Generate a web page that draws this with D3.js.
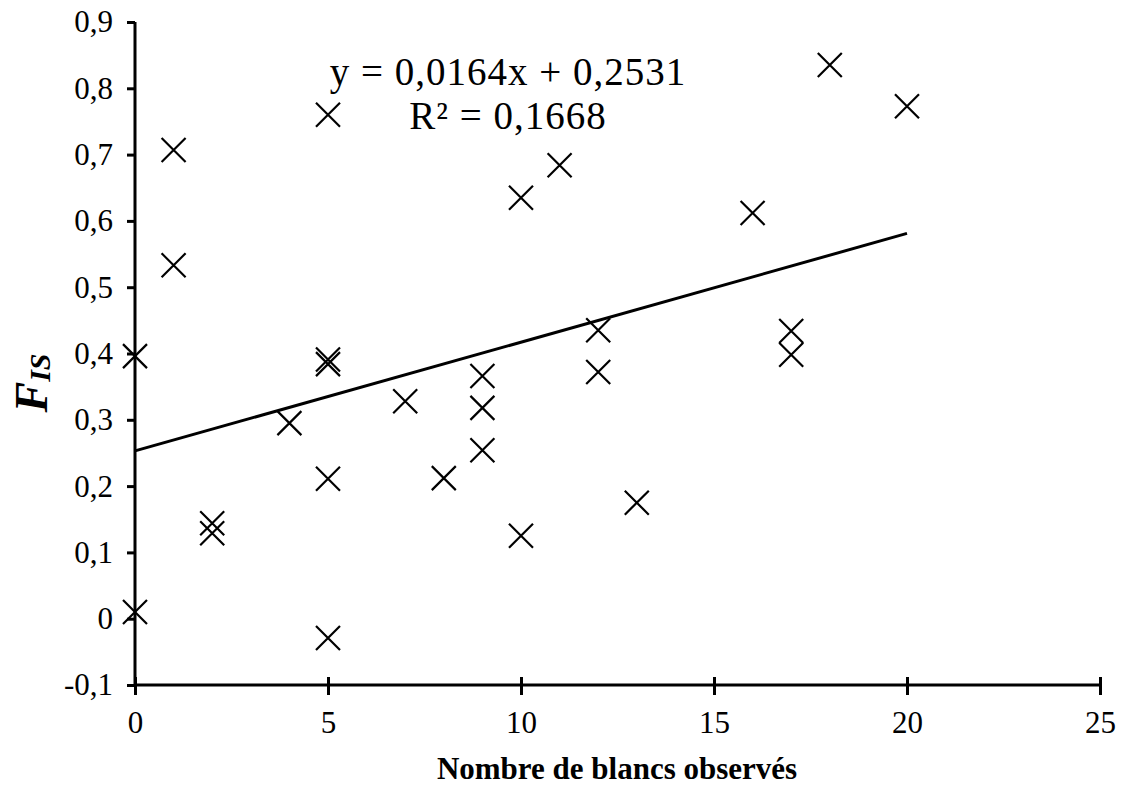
<!DOCTYPE html>
<html>
<head>
<meta charset="utf-8">
<script src="https://d3js.org/d3.v7.min.js"></script>
<style>
  body { margin: 0; background: #fff; }
  svg { display: block; }
  text { font-family: "Liberation Serif", "Times New Roman", serif; fill: #000; }
</style>
</head>
<body>
<svg id="chart" width="1121" height="785"></svg>
<script>
var width = 1121;
var height = 785;

// nombre de blancs observés
var blancs = [0, 0, 1, 1, 2, 2, 4, 5, 5, 5, 5, 5, 7, 8, 9, 9, 9, 10, 10, 11, 12, 12, 13, 16, 17, 17, 18, 20];
// F_IS
var fis = [0.396, 0.010, 0.707, 0.533, 0.144, 0.129, 0.295, 0.760, 0.391, 0.384, 0.211, -0.029, 0.328, 0.212,
           0.366, 0.318, 0.254, 0.635, 0.125, 0.684, 0.435, 0.372, 0.175, 0.612, 0.434, 0.398, 0.835, 0.773];

var xTicks = [0, 5, 10, 15, 20, 25];
var yTicks = [-0.1, 0, 0.1, 0.2, 0.3, 0.4, 0.5, 0.6, 0.7, 0.8, 0.9];

// courbe de tendance linéaire (Excel)
var pente = 0.0164;
var ordonnee = 0.2531;
var equation = ["y = 0,0164x + 0,2531", "R² = 0,1668"];

var svg = d3.select("#chart");

var x = d3.scaleLinear().domain([0, 25]).range([135, 1100]);
var y = d3.scaleLinear().domain([-0.1, 0.9]).range([685, 22]);

function virgule(d) {
  return String(+d.toFixed(1)).replace(".", ",");
}

// axe Y
var yAxis = svg.append("g")
    .attr("transform", "translate(" + x(0) + ",0)")
    .call(d3.axisLeft(y).tickValues(yTicks).tickSize(8).tickPadding(14).tickFormat(virgule));
yAxis.attr("font-family", null).attr("font-size", null);
yAxis.select(".domain").attr("stroke", "#000").attr("stroke-width", 3)
    .attr("d", "M0," + y(-0.1) + "V" + y(0.9));
yAxis.selectAll(".tick line").attr("stroke", "#000").attr("stroke-width", 3).attr("x1", 0);
yAxis.selectAll(".tick text").attr("font-size", 31);

// axe X
var xAxis = svg.append("g")
    .attr("transform", "translate(0," + y(-0.1) + ")")
    .call(d3.axisBottom(x).tickValues(xTicks).tickSize(10).tickFormat(d3.format("d")));
xAxis.attr("font-family", null).attr("font-size", null);
xAxis.select(".domain").attr("stroke", "#000").attr("stroke-width", 3)
    .attr("d", "M" + x(0) + ",0H" + x(25));
xAxis.selectAll(".tick line").attr("stroke", "#000").attr("stroke-width", 3).attr("y1", -8).attr("y2", 10);
xAxis.selectAll(".tick text").attr("font-size", 31)
    .attr("y", 48).attr("dy", 0);

// points en croix
var r = 12;
svg.append("g").selectAll("path")
  .data(blancs)
  .enter().append("path")
    .attr("d", function(d, i) {
      var cx = x(d), cy = y(fis[i]);
      return "M" + (cx - r) + "," + (cy - r) + "L" + (cx + r) + "," + (cy + r) +
             "M" + (cx - r) + "," + (cy + r) + "L" + (cx + r) + "," + (cy - r);
    })
    .attr("stroke", "#000")
    .attr("stroke-width", 2.2)
    .attr("fill", "none");

// droite de régression
var xMax = d3.max(blancs);
svg.append("line")
    .attr("x1", x(0)).attr("y1", y(ordonnee))
    .attr("x2", x(xMax)).attr("y2", y(ordonnee + pente * xMax))
    .attr("stroke", "#000")
    .attr("stroke-width", 3);

// équation
svg.append("g").selectAll("text")
  .data(equation)
  .enter().append("text")
    .attr("x", 508)
    .attr("y", function(d, i) { return 85 + i * 44; })
    .attr("text-anchor", "middle")
    .attr("font-size", 39)
    .attr("letter-spacing", 1)
    .text(function(d) { return d; });

// titres des axes
svg.append("text")
    .attr("x", 617)
    .attr("y", 779)
    .attr("text-anchor", "middle")
    .attr("font-size", 31)
    .attr("font-weight", "bold")
    .text("Nombre de blancs observés");

var yLab = svg.append("text")
    .attr("transform", "translate(47,383) rotate(-90)")
    .attr("text-anchor", "middle")
    .attr("font-weight", "bold")
    .attr("font-style", "italic");
yLab.append("tspan").attr("font-size", 46).text("F");
yLab.append("tspan").attr("font-size", 30).attr("dy", 3).text("IS");
</script>
</body>
</html>
